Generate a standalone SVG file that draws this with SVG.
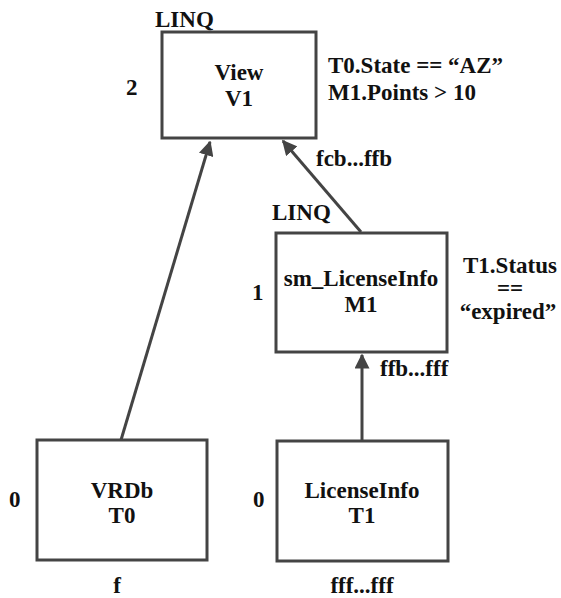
<svg xmlns="http://www.w3.org/2000/svg" width="561" height="598" viewBox="0 0 561 598">
<style>
text{font-family:"Liberation Serif","Times New Roman",serif;font-weight:bold;font-size:23px;fill:#111}
.box{fill:#fff;stroke:#444;stroke-width:3}
.c{stroke:#444;stroke-width:3;fill:none}
.m{text-anchor:middle}
</style>
<defs>
<marker id="ah" viewBox="0 0 10 10" refX="9" refY="5" markerWidth="5" markerHeight="5" markerUnits="strokeWidth" orient="auto">
<path d="M0,0 L10,5 L0,10 z" fill="#444"/>
</marker>
</defs>
<rect width="561" height="598" fill="#fff"/>
<g id="connectors">
<line class="c" x1="121" y1="440" x2="210" y2="142" marker-end="url(#ah)"/>
<line class="c" x1="361" y1="232" x2="283" y2="141" marker-end="url(#ah)"/>
<line class="c" x1="362" y1="441" x2="362" y2="355" marker-end="url(#ah)"/>
</g>
<g id="view">
<rect class="box" x="162" y="32" width="154" height="106"/>
<text class="m" x="239" y="80">View</text>
<text class="m" x="239" y="106">V1</text>
<text x="155" y="27">LINQ</text>
<text x="126" y="95">2</text>
<text x="328" y="73">T0.State == “AZ”</text>
<text x="328" y="100">M1.Points &gt; 10</text>
<text x="316" y="166">fcb...ffb</text>
</g>
<g id="sm">
<rect class="box" x="276" y="233" width="171" height="119"/>
<text class="m" x="361" y="286">sm_LicenseInfo</text>
<text class="m" x="361" y="312">M1</text>
<text x="272" y="220">LINQ</text>
<text x="252" y="300">1</text>
<text class="m" x="510" y="273">T1.Status</text>
<text class="m" x="510" y="296">==</text>
<text class="m" x="508" y="319">“expired”</text>
<text x="380" y="376">ffb...fff</text>
</g>
<g id="vrdb">
<rect class="box" x="37" y="440" width="170" height="120"/>
<text class="m" x="122" y="498">VRDb</text>
<text class="m" x="122" y="523">T0</text>
<text x="9" y="507">0</text>
<text class="m" x="117" y="593">f</text>
</g>
<g id="licenseinfo">
<rect class="box" x="277" y="441" width="171" height="120"/>
<text class="m" x="362" y="498">LicenseInfo</text>
<text class="m" x="362" y="523">T1</text>
<text x="253" y="507">0</text>
<text class="m" x="362" y="593">fff...fff</text>
</g>
</svg>
